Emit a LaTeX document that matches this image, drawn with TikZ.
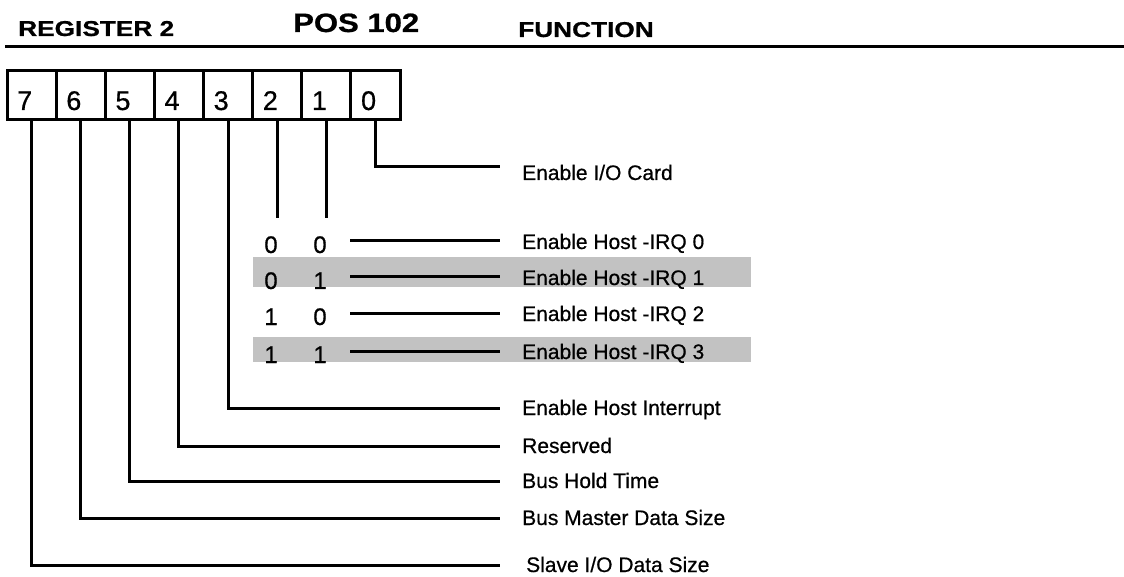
\documentclass[tikz,border=0pt]{standalone}
\usepackage{fontspec}
\setmainfont{Liberation Sans}
\newfontfamily\medfont[FakeBold=0.6]{Liberation Sans}
\newfontfamily\headfont[FakeBold=0.8]{Liberation Sans Bold}
\begin{document}
\begin{tikzpicture}[x=1pt,y=-1pt,
  ln/.style={line width=3pt},
  cell/.style={draw,line width=3pt,minimum width=49.125pt,minimum height=49pt,inner sep=0pt},
  bitnum/.style={anchor=base west,inner sep=0pt,font=\medfont\fontsize{27}{30}\selectfont},
  rownum/.style={anchor=base,inner sep=0pt,font=\medfont\fontsize{24}{28}\selectfont},
  lab/.style={anchor=base west,inner sep=0pt,font=\medfont\fontsize{21}{24}\selectfont},
  head/.style={anchor=base west,inner sep=0pt,font=\headfont\fontsize{21.5}{25}\selectfont,xscale=1.22},
  band/.style={fill=black!24,draw=none}]
\useasboundingbox (0,0) rectangle (1124,577);

% header
\node[head] (hreg) at (18,36) {REGISTER 2};
\node[head,font=\headfont\fontsize{26.5}{30}\selectfont,xscale=0.96] (hpos) at (293,32) {POS 102};
\node[head] (hfun) at (518,37) {FUNCTION};
\draw[line width=3pt] (5,47) -- (1124,47);

% shaded bands
\fill[band] (253,257) rectangle (751,287);
\fill[band] (253,337) rectangle (751,362);

% register cells
\foreach \i in {0,...,7} {
  \node[cell] (b\i) at ({7+49.125*(7-\i+0.5)},95.5) {};
  \node[bitnum] (n\i) at ({7+49.125*(7-\i)+10},110) {\i};
}

% end points of the connectors
\coordinate (e0) at (500,167);
\coordinate (e3) at (500,408);
\coordinate (e4) at (500,446);
\coordinate (e5) at (500,481);
\coordinate (e6) at (500,518);
\coordinate (e7) at (500,565);

% connectors
\draw[ln] (b0.south) |- (e0);
\draw[ln] (b1.south) -- ++(0,97);
\draw[ln] (b2.south) -- ++(0,97);
\foreach \i in {3,...,7} { \draw[ln] (b\i.south) |- (e\i); }

% labels
\node[lab] (l0) at (522,180) {Enable I/O Card};
\node[lab] (l3) at (522,415) {Enable Host Interrupt};
\node[lab] (l4) at (522,453) {Reserved};
\node[lab] (l5) at (522,488) {Bus Hold Time};
\node[lab] (l6) at (522,525) {Bus Master Data Size};
\node[lab] (l7) at (526,572) {Slave I/O Data Size};

% IRQ table
\foreach \r/\y/\a/\b/\k in {0/241/0/0/0, 1/277/0/1/1, 2/313/1/0/2, 3/351/1/1/3} {
  \node[rownum] (ra\r) at (271,\y+12) {\a};
  \node[rownum] (rb\r) at (320,\y+12) {\b};
  \coordinate (rs\r) at (350,\y);
  \coordinate (re\r) at (500,\y);
  \draw[ln] (rs\r) -- (re\r);
  \node[lab] (rl\r) at (522,\y+8) {Enable Host -IRQ \k};
}
\end{tikzpicture}
\end{document}
